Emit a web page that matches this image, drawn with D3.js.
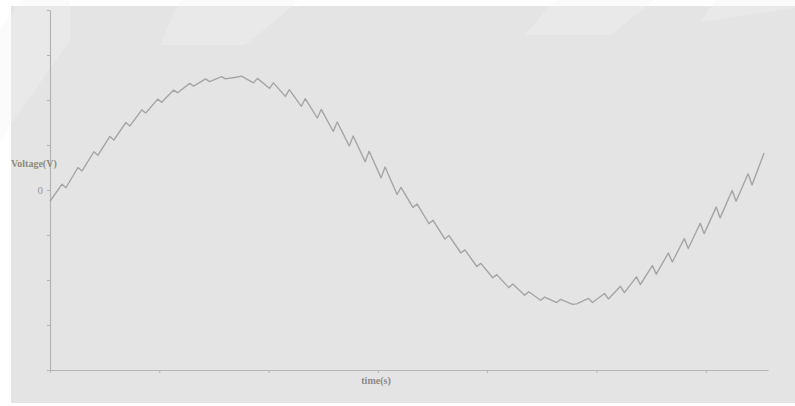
<!DOCTYPE html>
<html><head><meta charset="utf-8">
<script src="https://cdn.jsdelivr.net/npm/d3@7"></script>
<style>html,body{margin:0;padding:0;background:#fff;}svg{display:block;}</style>
</head><body>
<svg id="chart" width="795" height="406"></svg>
<script>
// time (s) of each vertex of the rippled waveform
const times = [
0.000,0.110, 0.146,0.256, 0.292,0.402, 0.438,0.548, 0.584,0.694, 0.730,0.840,
0.876,0.986, 1.022,1.132, 1.168,1.278, 1.314,1.424, 1.460,1.570, 1.606,1.716,
1.752,1.862, 1.898,2.008, 2.044,2.154, 2.190,2.300, 2.336,2.446, 2.482,2.592,
2.628,2.738, 2.774,2.884, 2.920,3.030, 3.066,3.176, 3.212,3.322, 3.358,3.468,
3.504,3.614, 3.650,3.760, 3.796,3.906, 3.942,4.052, 4.088,4.198, 4.234,4.344,
4.380,4.490, 4.526,4.636, 4.672,4.782, 4.818,4.928, 4.964,5.074, 5.110,5.220,
5.256,5.366, 5.402,5.512, 5.548,5.658, 5.694,5.804, 5.840,5.950, 5.986,6.096,
6.132,6.242, 6.278,6.388, 6.424,6.534
];
// voltage (V) at each vertex
const voltages = [
-0.25,0.13, 0.05,0.50, 0.42,0.85, 0.77,1.19, 1.11,1.50, 1.42,1.78,
1.71,2.02, 1.95,2.22, 2.16,2.37, 2.31,2.47, 2.41,2.52, 2.47,2.51,
2.53,2.38, 2.48,2.26, 2.38,2.08, 2.23,1.86, 2.03,1.60, 1.79,1.30,
1.51,0.98, 1.20,0.63, 0.86,0.27, 0.51,-0.10, 0.06,-0.39, -0.31,-0.75,
-0.67,-1.09, -1.01,-1.40, -1.33,-1.70, -1.63,-1.95, -1.88,-2.17, -2.09,-2.34,
-2.26,-2.45, -2.38,-2.50, -2.43,-2.54, -2.53,-2.41, -2.50,-2.30, -2.42,-2.14,
-2.28,-1.93, -2.10,-1.68, -1.87,-1.40, -1.60,-1.08, -1.30,-0.74, -0.97,-0.38,
-0.62,-0.01, -0.25,0.36, 0.11,0.82
];
const xTicks = [0,1,2,3,4,5,6];
const yTicks = [-4,-3,-2,-1,0,1,2,3,4];
const yTickLabels = {"0":"0"};
const xTitle = "time(s)";
const yTitle = "Voltage(V)";

const svg = d3.select("#chart");
// background panel
svg.append("rect").attr("x",11).attr("y",6).attr("width",784).attr("height",397).attr("fill","#e4e4e4");

// faint watermark bands
const wm = [
  [[0,30],[0,140],[70,40],[70,-70]],
  [[180,0],[300,0],[245,45],[160,45]],
  [[555,0],[655,0],[610,35],[525,35]],
  [[715,0],[795,0],[795,8],[700,22]]
];
svg.append("g").selectAll("polygon").data(wm).join("polygon")
  .attr("points",d=>d.map(p=>p.join(",")).join(" "))
  .attr("fill","#f4f4f4").attr("opacity",0.35);

const x = d3.scaleLinear().domain([0,6.57]).range([50,768]);
const y = d3.scaleLinear().domain([-4,4]).range([370,10]);

const xAxis = svg.append("g").attr("transform","translate(0,370)")
  .call(d3.axisBottom(x).tickValues(xTicks).tickSize(3).tickFormat("").tickSizeOuter(0));
const yAxis = svg.append("g").attr("transform","translate(50,0)")
  .call(d3.axisLeft(y).tickValues(yTicks).tickSize(3).tickSizeOuter(0)
    .tickFormat(d=>yTickLabels[String(d)]||""));
[xAxis,yAxis].forEach(a=>{
  a.selectAll("path").attr("stroke","#b4b4b4").attr("stroke-width",1.2);
  a.selectAll("line").attr("stroke","#b4b4b4");
});
yAxis.selectAll("text").attr("font-family","Liberation Serif, serif").attr("font-size",11)
  .attr("fill","#9a9a9a").attr("x",-7);

// waveform
const pts = times.map((t,i)=>[t,voltages[i]]);
svg.append("path").datum(pts)
  .attr("d",d3.line().x(d=>x(d[0])).y(d=>y(d[1])))
  .attr("fill","none").attr("stroke","#a5a5a5").attr("stroke-width",1.4)
  .attr("stroke-linejoin","round");

svg.append("text").attr("x",11).attr("y",167).text(yTitle)
  .attr("font-family","Liberation Serif, serif").attr("font-weight","bold")
  .attr("font-size",10).attr("fill","#8f8b78");
svg.append("text").attr("x",376).attr("y",384).attr("text-anchor","middle").text(xTitle)
  .attr("font-family","Liberation Serif, serif").attr("font-weight","bold")
  .attr("font-size",10).attr("fill","#8a8a8a");
</script>
</body></html>
